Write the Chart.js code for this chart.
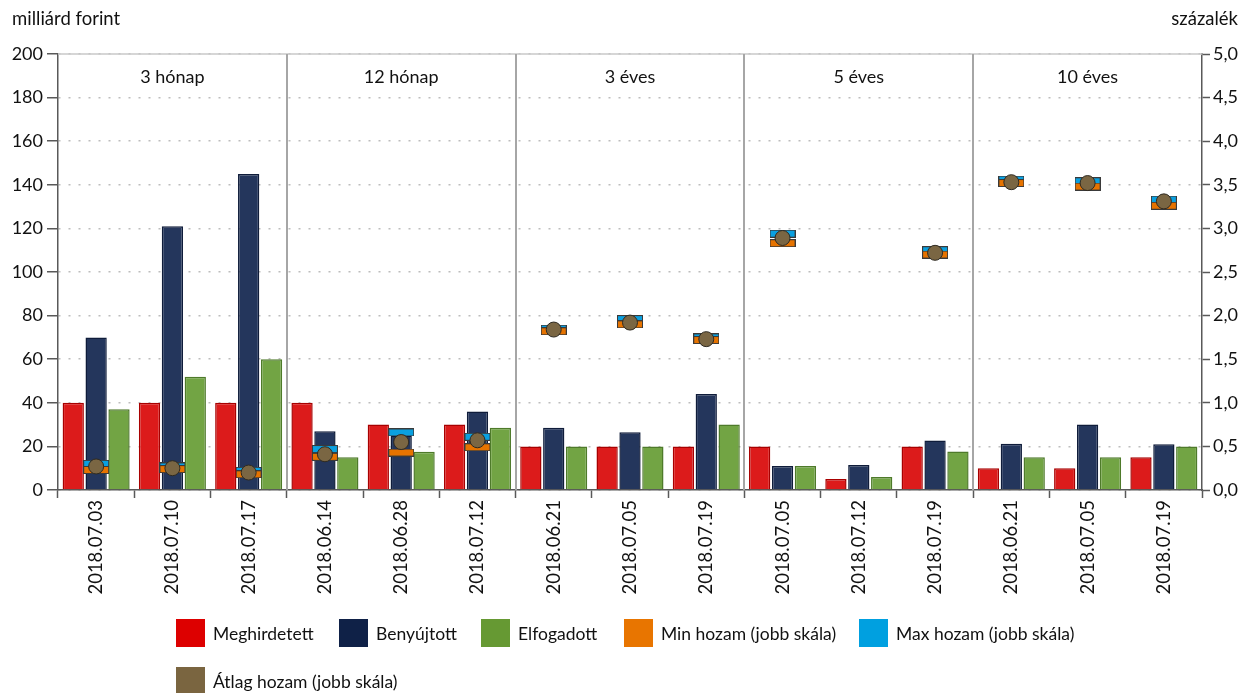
<!DOCTYPE html>
<html><head><meta charset="utf-8">
<script src="https://cdn.jsdelivr.net/npm/chart.js@4.4.0/dist/chart.umd.min.js"></script>
<style>
html,body{margin:0;padding:0;background:#fff;}
#wrap{position:relative;width:1252px;height:693px;overflow:hidden;}
#c{position:absolute;left:0;top:0;}
.leg{position:absolute;font-family:Lato,sans-serif;font-size:17.5px;color:#111;display:flex;align-items:center;white-space:nowrap;height:28px;}
.leg .box{display:inline-block;width:29px;height:28px;margin-right:8px;}
</style></head>
<body><div id="wrap"><canvas id="c" width="1252" height="693"></canvas><div id="legend"></div></div>
<script>
const categories = ['2018.07.03','2018.07.10','2018.07.17','2018.06.14','2018.06.28','2018.07.12','2018.06.21','2018.07.05','2018.07.19','2018.07.05','2018.07.12','2018.07.19','2018.06.21','2018.07.05','2018.07.19'];
const groupNames = ['3 hónap','12 hónap','3 éves','5 éves','10 éves'];
const groupSizes = [3,3,3,3,3];
const meghirdetett = [40,40,40,40,30,30,20,20,20,20,5,20,10,10,15];
const benyujtott = [70,121,145,27,25,36,28.5,26.5,44,11,11.5,22.7,21.2,30,21];
const elfogadott = [37,52,60,15,17.5,28.5,20,20,30,11,6,17.7,15,15,20];
const minHozam = [0.23,0.24,0.18,0.38,0.43,0.49,1.82,1.90,1.72,2.83,null,2.70,3.52,3.48,3.26];
const maxHozam = [0.30,0.27,0.22,0.47,0.66,0.61,1.85,1.96,1.75,2.94,null,2.75,3.56,3.54,3.33];
const atlagHozam = [0.27,0.25,0.20,0.41,0.55,0.57,1.84,1.92,1.73,2.89,null,2.72,3.53,3.52,3.31];
const leftTicks = {min:0, max:200, step:20};
const rightTicks = {min:0, max:5, step:0.5};

const FONT = 'Lato, sans-serif';
const TXT = '#111111';
const AX = '#595959';

function rectMarker(fill){
  const cv = document.createElement('canvas');
  cv.width = 26; cv.height = 8;
  const g = cv.getContext('2d');
  g.fillStyle = '#3a3a3a'; g.fillRect(0,0,26,8);
  g.fillStyle = fill; g.fillRect(1,1,24,6);
  return cv;
}

const overlay = {
  id:'overlay',
  afterDraw(chart){
    const {ctx, chartArea:a, scales:{x}} = chart;
    const cw = x.width / categories.length;
    ctx.save();
    ctx.strokeStyle = '#c8c8c8'; ctx.lineWidth = 1.5;
    ctx.beginPath(); ctx.moveTo(a.left, a.top); ctx.lineTo(a.right, a.top); ctx.stroke();
    ctx.font = '18px ' + FONT; ctx.fillStyle = TXT; ctx.textAlign = 'center'; ctx.textBaseline = 'middle';
    let idx = 0;
    groupNames.forEach((g, gi) => {
      const left = x.getPixelForValue(idx) - cw/2;
      const right = x.getPixelForValue(idx + groupSizes[gi] - 1) + cw/2;
      ctx.fillText(g, (left+right)/2, a.top + 23);
      if (gi < groupNames.length - 1) {
        ctx.strokeStyle = '#a6a6a6'; ctx.lineWidth = 2;
        ctx.beginPath(); ctx.moveTo(Math.round(right), a.top); ctx.lineTo(Math.round(right), a.bottom); ctx.stroke();
      }
      idx += groupSizes[gi];
    });
    ctx.textBaseline = 'middle';
    ctx.textAlign = 'left'; ctx.font = '18.5px ' + FONT;
    ctx.fillText('milliárd forint', 12, 19);
    ctx.textAlign = 'right';
    ctx.fillText('százalék', 1238, 19);
    ctx.restore();
  }
};

const barBase = {categoryPercentage:0.9, barPercentage:0.93, borderWidth:1.5, yAxisID:'y', order:5};
const ptBase = {type:'line', showLine:false, yAxisID:'y1'};

new Chart(document.getElementById('c'), {
  type:'bar',
  data:{
    labels:categories,
    datasets:[
      Object.assign({label:'Meghirdetett', data:meghirdetett, backgroundColor:'#dc1b1b', borderColor:'#a80000'}, barBase),
      Object.assign({label:'Benyújtott', data:benyujtott, backgroundColor:'#24365c', borderColor:'#0f1c3a'}, barBase),
      Object.assign({label:'Elfogadott', data:elfogadott, backgroundColor:'#72a444', borderColor:'#4e7a2a'}, barBase),
      Object.assign({label:'Max hozam (jobb skála)', data:maxHozam, pointStyle:rectMarker('#0aa0e0'), pointRadius:5, order:3}, ptBase),
      Object.assign({label:'Min hozam (jobb skála)', data:minHozam, pointStyle:rectMarker('#e67300'), pointRadius:5, order:2}, ptBase),
      Object.assign({label:'Átlag hozam (jobb skála)', data:atlagHozam, pointStyle:'circle', pointRadius:7.5, backgroundColor:'#7a6643', borderColor:'#2e2a22', borderWidth:1, order:1}, ptBase)
    ]
  },
  options:{
    responsive:false, animation:false,
    events:[],
    layout:{padding:{top:54, bottom:93, left:0, right:0}},
    plugins:{legend:{display:false}, tooltip:{enabled:false}},
    scales:{
      x:{
        offset:true,
        grid:{drawOnChartArea:false, offset:true, tickLength:8, tickColor:AX, tickWidth:1.5},
        border:{color:AX, width:1.5},
        ticks:{autoSkip:false, minRotation:90, maxRotation:90, padding:2, color:TXT, font:{family:FONT, size:18.5}},
        afterFit(s){ s.height = 110; }
      },
      y:{
        position:'left', min:leftTicks.min, max:leftTicks.max,
        grid:{color:'#bdbdbd', lineWidth:1.5, tickLength:11, tickColor:AX, tickWidth:1.5},
        border:{color:AX, width:1.5, dash:[2,8]},
        ticks:{stepSize:leftTicks.step, padding:4, color:TXT, font:{family:FONT, size:18}},
        afterFit(s){ s.width = 58; }
      },
      y1:{
        position:'right', min:rightTicks.min, max:rightTicks.max,
        grid:{drawOnChartArea:false, tickLength:8, tickColor:AX, tickWidth:1.5},
        border:{color:AX, width:1.5},
        ticks:{stepSize:rightTicks.step, padding:3, color:TXT, font:{family:FONT, size:18},
          callback:v => Number(v).toFixed(1).replace('.', ',')},
        afterFit(s){ s.width = 50; }
      }
    }
  },
  plugins:[overlay]
});

const legendItems = [
  {t:'Meghirdetett', c:'#dd0000', x:176, y:619},
  {t:'Benyújtott', c:'#0f2147', x:339, y:619},
  {t:'Elfogadott', c:'#669933', x:481, y:619},
  {t:'Min hozam (jobb skála)', c:'#e87500', x:624, y:619},
  {t:'Max hozam (jobb skála)', c:'#00a0e0', x:859, y:619},
  {t:'Átlag hozam (jobb skála)', c:'#7a6540', x:176, y:667}
];
const lg = document.getElementById('legend');
legendItems.forEach(it => {
  const d = document.createElement('div');
  d.className = 'leg';
  d.style.left = it.x + 'px'; d.style.top = it.y + 'px';
  const b = document.createElement('span'); b.className = 'box'; b.style.background = it.c;
  d.appendChild(b);
  d.appendChild(document.createTextNode(it.t));
  lg.appendChild(d);
});
</script>
</body></html>
